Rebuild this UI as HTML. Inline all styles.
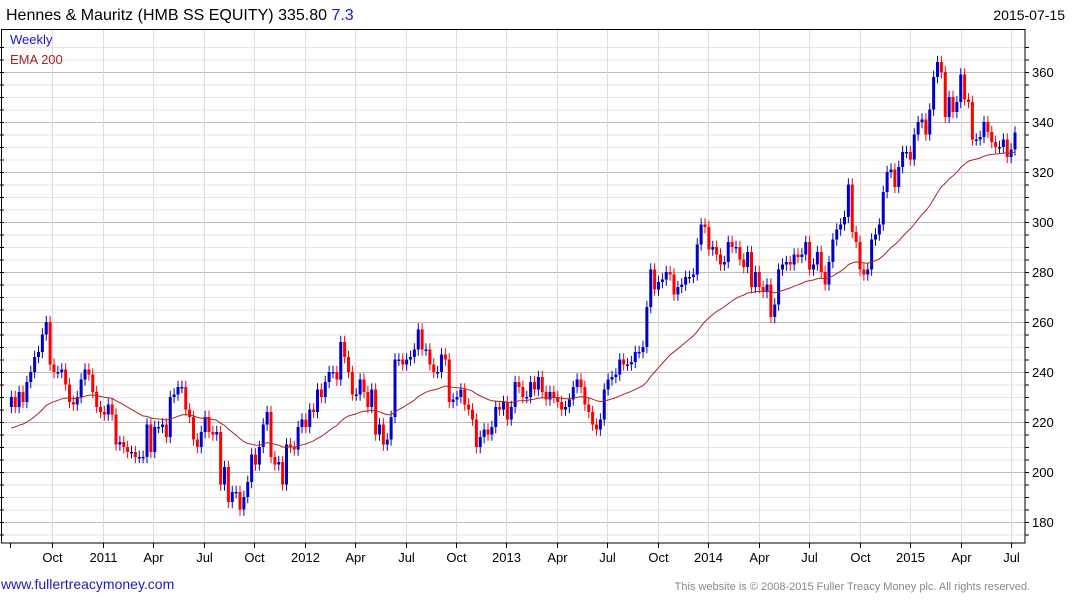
<!DOCTYPE html>
<html><head><meta charset="utf-8">
<style>
html,body{margin:0;padding:0;background:#fff;}
body{width:1075px;height:600px;overflow:hidden;font-family:"Liberation Sans",Arial,sans-serif;}
svg text{font-family:"Liberation Sans",Arial,sans-serif;}
</style></head>
<body>
<svg id="chart" width="1075" height="600" viewBox="0 0 1075 600" xmlns="http://www.w3.org/2000/svg">
<text x="6" y="20" font-size="16" fill="#000">Hennes &amp; Mauritz (HMB SS EQUITY) 335.80 <tspan fill="#1515dd">7.3</tspan></text>
<text x="1065" y="20" font-size="14" fill="#000" text-anchor="end">2015-07-15</text>
<g id="grid"></g>
<g id="marks"></g>
<path id="ema" fill="none" stroke="#b22222" stroke-width="1"/>
<rect x="1.5" y="29.5" width="1023.5" height="513.5" fill="none" stroke="#000" stroke-width="1"/>
<g id="axes"></g>
<text x="10" y="44" font-size="13" fill="#1515dd">Weekly</text>
<text x="10" y="64" font-size="13" fill="#aa2222">EMA 200</text>
<text x="1" y="589" font-size="14" fill="#1a1acc">www.fullertreacymoney.com</text>
<text x="1030" y="590" font-size="11" fill="#888" text-anchor="end">This website is © 2008-2015 Fuller Treacy Money plc. All rights reserved.</text>
</svg>
<script>
const closes = [230,226,232,228,236,240,246,248,255,260,
243,240,240,241,235,228,227,230,237,241,
239,232,226,224,223,227,223,211,212,210,
208,208,206,206,206,219,208,218,218,219,
214,230,231,234,234,225,222,213,210,216,
222,216,215,216,195,202,188,192,192,185,
190,196,207,203,210,219,224,
206,203,204,195,211,210,209,218,221,218,
225,224,233,230,236,240,240,237,252,246,
240,231,231,237,232,226,233,215,219,211,
213,222,245,245,243,245,246,249,257,249,
249,243,240,240,247,245,228,229,230,233,
227,225,221,210,214,217,215,218,226,225,
228,221,226,236,234,230,230,
236,233,238,232,229,232,230,228,225,226,
229,234,237,234,227,224,219,217,221,233,
237,238,239,245,243,243,244,248,248,250,
266,281,273,276,277,280,279,271,274,275,
278,278,279,291,299,298,289,290,287,283,
284,292,290,290,285,282,288,274,280,274,
272,275,262,267,281,
283,284,283,287,286,287,292,281,283,288,
280,275,284,293,297,299,302,315,296,292,
281,279,281,293,295,299,312,320,321,314,
322,328,328,325,335,340,341,335,345,358,
364,360,342,350,344,348,359,349,348,333,
333,334,340,336,332,330,330,333,326,329,335.8];
const firstOpen = [226];
const emaSeed = [217];
const yTicks = [180,200,220,240,260,280,300,320,340,360];
const xTickLabels = ["Oct","2011","Apr","Jul","Oct","2012","Apr","Jul","Oct","2013","Apr","Jul","Oct","2014","Apr","Jul","Oct","2015","Apr","Jul"];

const NS="http://www.w3.org/2000/svg";
const grid=document.getElementById('grid'), marks=document.getElementById('marks'), axes=document.getElementById('axes');
const N=closes.length;
const yS=v=>72+(360-v)*2.5;
const xS=i=>1015-(N-1-i)*3.875;
const xQ=k=>52.3+50.46*(k-1);
function mk(tag,attrs,parent){const e=document.createElementNS(NS,tag);for(const k in attrs)e.setAttribute(k,attrs[k]);parent.appendChild(e);return e;}

for(let v=175;v<=370;v+=5){
  const y=yS(v); if(y<30||y>542)continue;
  const major=(v%20===0);
  const l=mk('line',{x1:2,x2:1025,y1:y+0.5,y2:y+0.5,stroke:major?'#bdbdbd':'#e6e6e6','stroke-width':1},grid);
  
  
  const t=mk('line',{x1:1025,x2:1029,y1:y+0.5,y2:y+0.5,stroke:'#000'},axes);
  
  
  const t2=mk('line',{x1:0,x2:4,y1:y+0.5,y2:y+0.5,stroke:'#000'},axes);
  
  
}
yTicks.forEach(v=>{
  const t=mk('text',{x:1032,y:yS(v)+5,'font-size':13,fill:'#000'},axes);
  t.textContent=v;
  
  
});
const t0=mk('line',{x1:10.5,x2:10.5,y1:543,y2:548,stroke:'#000'},axes);


for(let k=1;k<=20;k++){
  const x=Math.round(xQ(k))+0.5;
  const l=mk('line',{x1:x,x2:x,y1:30,y2:543,stroke:'#dedede'},grid);
  
  
  const t=mk('line',{x1:x,x2:x,y1:543,y2:548,stroke:'#000'},axes);
  
  
  const lb=mk('text',{x:x,y:562,'font-size':13,fill:'#000','text-anchor':'middle'},axes);
  lb.textContent=xTickLabels[k-1];
  
  
}
let prev=firstOpen[0];
for(let i=0;i<N;i++){
  const o=prev,c=closes[i];
  const up=c>=o, col=up?'#0000cc':'#ff0000';
  const hi=Math.max(o,c)+2.5, lo=Math.min(o,c)-2.5;
  const x=xS(i);
  const w=mk('line',{x1:x,x2:x,y1:yS(hi),y2:yS(lo),stroke:col,'stroke-width':1},marks);
  
  
  const top=yS(Math.max(o,c)), h=Math.max(1.5,yS(Math.min(o,c))-top);
  const b=mk('rect',{x:x-1.5,y:top,width:3,height:h,fill:col},marks);
  
  
  prev=c;
}
let ema=emaSeed[0]; const a=2/41; let d='';
for(let i=0;i<N;i++){ema=ema+a*(closes[i]-ema);d+=(i?'L':'M')+xS(i).toFixed(1)+','+yS(ema).toFixed(1);}
document.getElementById('ema').setAttribute('d',d);
</script>
</body></html>
